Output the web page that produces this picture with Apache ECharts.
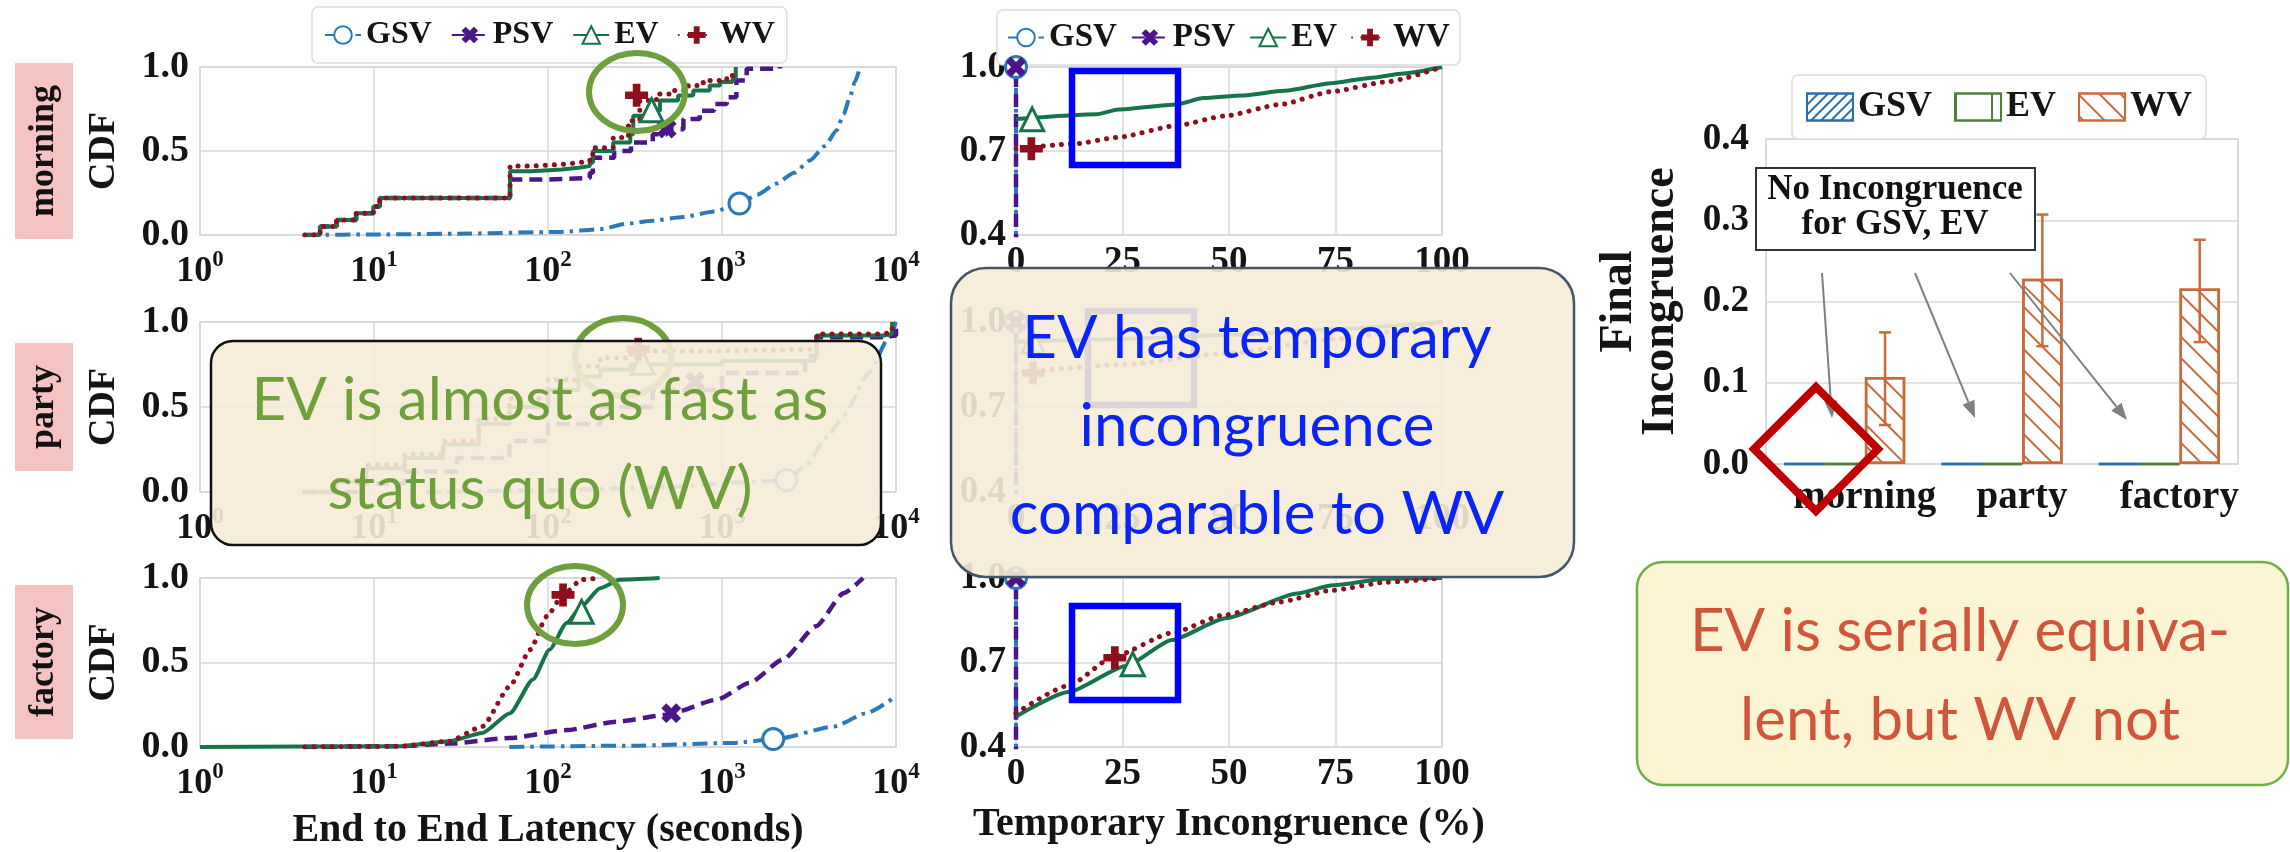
<!DOCTYPE html>
<html><head><meta charset="utf-8">
<script src="https://cdn.jsdelivr.net/npm/echarts@6/dist/echarts.min.js"></script>
<style>html,body{margin:0;padding:0;background:#fff}#c{width:2290px;height:852px}</style>
</head><body><div id="c"></div>
<script>
// ================= DATA =================
const scenarios = ['morning', 'party', 'factory'];
const methods = ['GSV', 'PSV', 'EV', 'WV'];
const barMethods = ['GSV', 'EV', 'WV'];

// End-to-end latency CDFs ([seconds, CDF])
const latMorningGSV = [[4,0],[10,0.003],[30,0.008],[117,0.018],[200,0.035],[284,0.067],[400,0.085],[597,0.107],[900,0.14],[1260,0.187],[1600,0.24],[2050,0.306],[2600,0.37],[3200,0.444],[3900,0.53],[4560,0.623],[5000,0.72],[5440,0.821],[5800,0.91],[6210,1.0]];
const latMorningPSV = [[4,0],[4.9,0.05],[6.1,0.09],[7.9,0.13],[9.9,0.17],[10.8,0.22],[60.5,0.33],[100,0.34],[174,0.37],[181,0.46],[240,0.5],[300,0.55],[400,0.6],[481,0.63],[600,0.69],[745,0.74],[900,0.78],[1065,0.82],[1210,0.92],[1386,0.99],[2150,1.0]];
const latMorningEV  = [[4,0],[4.9,0.05],[6.1,0.09],[7.9,0.13],[9.9,0.17],[10.8,0.22],[60.5,0.38],[80,0.39],[120,0.4],[150,0.41],[174,0.43],[181,0.5],[237,0.55],[297,0.6],[309,0.71],[369,0.74],[440,0.8],[560,0.83],[684,0.86],[850,0.89],[975,0.91],[1150,0.93],[1200,1.0]];
const latMorningWV  = [[4,0],[4.9,0.05],[6.1,0.09],[7.9,0.13],[9.9,0.17],[10.8,0.22],[60.5,0.41],[80,0.42],[120,0.43],[150,0.44],[174,0.46],[181,0.52],[237,0.58],[290,0.68],[337,0.8],[420,0.84],[503,0.86],[640,0.89],[780,0.92],[1065,0.95],[1150,1.0]];
const latMorningMarkers = [[1260,0.187],[481,0.633],[394,0.743],[323,0.832]];

const latPartyGSV = [[20,0],[100,0.01],[500,0.03],[1500,0.06],[2340,0.07],[3000,0.15],[4000,0.32],[5000,0.45],[7000,0.7],[9000,0.9],[10000,1.0]];
const latPartyPSV = [[4,0],[8,0.05],[15,0.12],[30,0.2],[60,0.3],[100,0.4],[200,0.5],[400,0.6],[1000,0.7],[3000,0.8],[3500,0.91],[8000,0.92],[10000,1.0]];
const latPartyEV  = [[4,0],[6,0.06],[9,0.14],[15,0.2],[25,0.28],[40,0.4],[60,0.5],[100,0.6],[150,0.68],[200,0.72],[300,0.75],[1000,0.77],[3400,0.79],[3500,0.92],[8500,0.93],[9500,1.0]];
const latPartyWV  = [[4,0],[6,0.07],[9,0.16],[15,0.22],[25,0.3],[40,0.43],[60,0.55],[100,0.66],[150,0.74],[200,0.79],[300,0.83],[1000,0.84],[3400,0.85],[3500,0.93],[8500,0.94],[9500,1.0]];
const latPartyMarkers = [[2340,0.07],[700,0.65],[350,0.76],[330,0.84]];

const latFactoryGSV = [[60,0],[300,0.008],[1150,0.024],[2050,0.047],[4370,0.12],[6770,0.2],[10000,0.3]];
const latFactoryPSV = [[4,0],[14,0.005],[27,0.02],[60,0.053],[128,0.1],[247,0.15],[480,0.19],[934,0.28],[1445,0.38],[2240,0.517],[3470,0.714],[5000,0.91],[6470,1.0]];
const latFactoryEV  = [[1,0],[14,0.004],[27,0.034],[42,0.083],[60.5,0.2],[82,0.4],[102,0.576],[128,0.734],[155,0.83],[199,0.94],[259,0.99],[438,1.0]];
const latFactoryWV  = [[4,0],[14,0.004],[27,0.034],[42,0.122],[60.5,0.36],[79,0.576],[98.5,0.773],[122,0.9],[156,0.99],[199,1.0]];
const latFactoryMarkers = [[1970,0.047],[511,0.2],[156,0.8],[122,0.9]];

// Temporary incongruence CDFs ([%, CDF])
const incZeroLine = [[0,0],[0,1.0]];      // GSV and PSV never incongruent
const incMorningEV = [[0,0.814],[19,0.831],[24,0.848],[37.5,0.866],[44,0.889],[53,0.898],[63,0.915],[74,0.942],[83,0.961],[91,0.977],[100,1.0]];
const incMorningWV = [[0,0.708],[14,0.726],[24,0.749],[37.5,0.79],[49,0.825],[62,0.866],[74,0.912],[87,0.947],[100,1.0]];
const incMorningMarkers = [[0,1.0],[0,1.0],[3.8,0.813],[3.6,0.708]];
const incPartyEV = [[0,0.93],[25,0.94],[50,0.955],[75,0.975],[100,1.0]];
const incPartyWV = [[0,0.82],[25,0.85],[50,0.89],[75,0.94],[100,1.0]];
const incPartyMarkers = [[0,1.0],[0,1.0],[4,0.93],[4,0.82]];
const incFactoryEV = [[0,0.508],[12.3,0.595],[25.8,0.688],[36.6,0.78],[49.2,0.857],[66,0.945],[74.4,0.974],[87,0.997],[100,1.0]];
const incFactoryWV = [[0,0.52],[12.3,0.618],[23.2,0.723],[36.6,0.805],[49,0.869],[62,0.915],[74,0.956],[87,0.985],[100,1.0]];
const incFactoryMarkers = [[0,1.0],[0,1.0],[27.4,0.694],[23.2,0.717]];

// Final incongruence (bar chart)
const finalGSV = [0, 0, 0];
const finalEV = [0, 0, 0];
const finalWV = [0.107, 0.228, 0.216];
const finalWVLow = [0.048, 0.145, 0.150];
const finalWVHigh = [0.162, 0.307, 0.276];

// ================= STYLE =================
const FONT = '"Liberation Serif","Times New Roman",serif';
const COLORS = {GSV:'#2b79b7', PSV:'#4a168a', EV:'#16744a', WV:'#8e0f1e'};
const PLUS = 'path://M3,0H6V3H9V6H6V9H3V6H0V3H3Z';
const STYLE = {
  GSV:{type:[15,6,3.5,6], width:4, symbol:'emptyCircle', mp:'circle', size:21, rot:0, hollow:true},
  PSV:{type:[13,7], width:4.5, symbol:PLUS, mp:PLUS, size:21, rot:45},
  EV:{type:'solid', width:4, symbol:'emptyTriangle', mp:'triangle', size:23, rot:0, hollow:true},
  WV:{type:[0.1,9], width:5, cap:'round', symbol:PLUS, mp:PLUS, size:23, rot:0}
};
const BAR = {GSV:'#2a6fae', EV:'#4f7f3c', WV:'#c96a3c'};
const tickFont = (s) => ({fontFamily:FONT, fontWeight:'bold', fontSize:s, color:'#141414'});

function lineSeries(m, idx, data, mark, step) {
  const s = STYLE[m];
  return {
    type:'line', name:m, xAxisIndex:idx, yAxisIndex:idx, data,
    step: step ? 'end' : false, smooth: step ? false : 0.2, smoothMonotone:'x',
    showSymbol:false, symbol:s.symbol, symbolSize:s.size, symbolRotate:s.rot,
    lineStyle:{color:COLORS[m], width:s.width, type:s.type, cap:s.cap || 'butt'},
    itemStyle:{color:COLORS[m]}, emphasis:{disabled:true}, animation:false, z:3,
    markPoint:{symbol:s.mp, symbolSize:s.size, symbolRotate:s.rot, silent:true, animation:false,
      label:{show:false},
      itemStyle: s.hollow ? {color:'#fff', borderColor:COLORS[m], borderWidth:3} : {color:COLORS[m]},
      data:[{coord:mark}]}
  };
}

// ================= LAYOUT =================
const rows = [{top:67, height:168}, {top:322, height:170}, {top:578, height:169}];
const grids = [];
rows.forEach(r => grids.push({left:200, width:696, top:r.top, height:r.height, show:true, borderColor:'#cfcfcf', borderWidth:1.5}));
rows.forEach(r => grids.push({left:1016, width:426, top:r.top, height:r.height, show:true, borderColor:'#cfcfcf', borderWidth:1.5}));
grids.push({left:1766, width:472, top:139, height:325, show:true, borderColor:'#cfcfcf', borderWidth:1.5});

const split = {show:true, lineStyle:{color:'#d9d9d9', width:1.5}};
const xAxis = [], yAxis = [];
rows.forEach((r, i) => {
  xAxis.push({type:'log', logBase:10, min:1, max:10000, gridIndex:i,
    axisLine:{show:false}, axisTick:{show:false}, splitLine:split,
    axisLabel:{margin:14, formatter: v => '{b|10}{s|' + Math.round(Math.log10(v)) + '}',
      rich:{b:Object.assign(tickFont(36), {verticalAlign:'bottom'}),
            s:Object.assign(tickFont(23), {verticalAlign:'bottom', padding:[0,0,18,0]})}},
    name: i === 2 ? 'End to End Latency (seconds)' : '', nameLocation:'middle', nameGap:64,
    nameTextStyle:tickFont(40)});
  yAxis.push({type:'value', min:0, max:1, interval:0.5, gridIndex:i,
    axisLine:{show:false}, axisTick:{show:false}, splitLine:split,
    axisLabel:Object.assign({margin:11, formatter: v => v.toFixed(1)}, tickFont(38)),
    name:'CDF', nameLocation:'middle', nameRotate:90, nameGap:77, nameTextStyle:tickFont(38)});
});
rows.forEach((r, i) => {
  xAxis.push({type:'value', min:0, max:100, interval:25, gridIndex:3 + i,
    axisLine:{show:false}, axisTick:{show:false}, splitLine:split,
    axisLabel:Object.assign({margin:9}, tickFont(37)),
    name: i === 2 ? 'Temporary Incongruence (%)' : '', nameLocation:'middle', nameGap:58,
    nameTextStyle:tickFont(40)});
  yAxis.push({type:'value', min:0.4, max:1.0, interval:0.3, gridIndex:3 + i,
    axisLine:{show:false}, axisTick:{show:false}, splitLine:split,
    axisLabel:Object.assign({margin:10, formatter: v => v.toFixed(1)}, tickFont(37))});
});
xAxis.push({type:'category', data:scenarios, gridIndex:6, axisLine:{show:false}, axisTick:{show:false},
  axisLabel:Object.assign({margin:14, padding:[0,0,0,40], interval:0, hideOverlap:false}, tickFont(39))});
yAxis.push({type:'value', min:0, max:0.4, interval:0.1, gridIndex:6, axisLine:{show:false}, axisTick:{show:false},
  splitLine:split, axisLabel:Object.assign({margin:17, formatter: v => v.toFixed(1)}, tickFont(37)),
  name:'Final\nIncongruence', nameLocation:'middle', nameRotate:90, nameGap:84,
  nameTextStyle:Object.assign(tickFont(46), {lineHeight:42})});

// ================= SERIES =================
const series = [];
const latSets = [
  {d:[latMorningGSV, latMorningPSV, latMorningEV, latMorningWV], mk:latMorningMarkers, step:true},
  {d:[latPartyGSV, latPartyPSV, latPartyEV, latPartyWV], mk:latPartyMarkers, step:true},
  {d:[latFactoryGSV, latFactoryPSV, latFactoryEV, latFactoryWV], mk:latFactoryMarkers, step:false}
];
latSets.forEach((set, r) => methods.forEach((m, k) =>
  series.push(lineSeries(m, r, set.d[k], set.mk[k], set.step && m !== 'GSV'))));
const incSets = [
  {d:[incZeroLine, incZeroLine, incMorningEV, incMorningWV], mk:incMorningMarkers},
  {d:[incZeroLine, incZeroLine, incPartyEV, incPartyWV], mk:incPartyMarkers},
  {d:[incZeroLine, incZeroLine, incFactoryEV, incFactoryWV], mk:incFactoryMarkers}
];
incSets.forEach((set, r) => methods.forEach((m, k) =>
  series.push(lineSeries(m, 3 + r, set.d[k], set.mk[k], false))));

const decals = {
  GSV:{symbol:'rect', symbolSize:1, color:BAR.GSV, dashArrayX:[1,0], dashArrayY:[2,5], rotation:-Math.PI/4},
  EV:{symbol:'rect', symbolSize:1, color:BAR.EV, dashArrayX:[2,34], dashArrayY:[1,0], rotation:0},
  WV:{symbol:'rect', symbolSize:1, color:BAR.WV, dashArrayX:[1,0], dashArrayY:[2,13], rotation:Math.PI/4}
};
const barData = {GSV:finalGSV, EV:finalEV, WV:finalWV};
const BAR_GAP = 0.23;
barMethods.forEach(m => series.push({
  type:'bar', name:m + ' ', xAxisIndex:6, yAxisIndex:6, data:barData[m],
  barGap:'0%', barCategoryGap:(BAR_GAP * 100) + '%', animation:false,
  itemStyle:{color:'#fff', borderColor:BAR[m], borderWidth:2.5, decal:decals[m]},
  emphasis:{disabled:true}
}));
series.push({
  type:'custom', xAxisIndex:6, yAxisIndex:6, animation:false, z:10,
  data: scenarios.map((c, i) => [i, finalWVLow[i], finalWVHigh[i]]),
  encode:{x:0, y:[1,2]},
  renderItem(params, api) {
    const band = api.size([1, 0])[0];
    const bw = band * (1 - BAR_GAP) / 3;
    const cx = api.coord([api.value(0), 0])[0] + bw;
    const lo = api.coord([api.value(0), api.value(1)])[1];
    const hi = api.coord([api.value(0), api.value(2)])[1];
    const st = {stroke:BAR.WV, lineWidth:2.5};
    return {type:'group', children:[
      {type:'line', shape:{x1:cx, y1:lo, x2:cx, y2:hi}, style:st},
      {type:'line', shape:{x1:cx - 6, y1:hi, x2:cx + 6, y2:hi}, style:st},
      {type:'line', shape:{x1:cx - 6, y1:lo, x2:cx + 6, y2:lo}, style:st}
    ]};
  }
});

// ================= LEGENDS =================
const legendBase = {orient:'horizontal', backgroundColor:'#fff', borderColor:'#dcdcdc', borderWidth:1.5,
  borderRadius:6, selectedMode:false};
const legends = [
  Object.assign({}, legendBase, {data:methods, left:312, top:7, padding:[12,12], itemGap:19,
    itemWidth:36, itemHeight:22, textStyle:tickFont(32)}),
  Object.assign({}, legendBase, {data:methods, left:997, top:10, padding:[11,10], itemGap:14,
    itemWidth:36, itemHeight:22, textStyle:tickFont(33)}),
  Object.assign({}, legendBase, {data:barMethods.map(m => m + ' '), formatter: n => n.trim(),
    icon:'rect', left:1792, top:75, padding:[14,14], itemGap:22, itemWidth:46, itemHeight:27,
    textStyle:tickFont(36)})
];

// ================= ANNOTATIONS =================
const calloutFont = '60px Lato, "Open Sans", sans-serif';
function arrow(x1, y1, x2, y2) {
  const a = Math.atan2(y2 - y1, x2 - x1), L = 17, W = 6.5;
  const bx = x2 - L * Math.cos(a), by = y2 - L * Math.sin(a);
  return [
    {type:'line', z:105, shape:{x1, y1, x2:bx, y2:by}, style:{stroke:'#7f7f7f', lineWidth:2}},
    {type:'polygon', z:105, shape:{points:[[x2, y2], [bx + W * Math.sin(a), by - W * Math.cos(a)], [bx - W * Math.sin(a), by + W * Math.cos(a)]]}, style:{fill:'#7f7f7f'}}
  ];
}
const rowCenters = [151, 407, 662];
const graphic = [];
scenarios.forEach((s, i) => graphic.push({type:'text', x:44, y:rowCenters[i], rotation:Math.PI / 2, z:50,
  style:{text:s, font:'bold 36px "Liberation Serif"', fill:'#111', align:'center', verticalAlign:'middle',
    backgroundColor:'#f6c3c3', padding:[11, 22, 11, 22]}}));
// green ellipses
[[637, 92], [623, 357], [575, 605]].forEach(c => graphic.push({type:'ellipse', z:60,
  shape:{cx:c[0], cy:c[1], rx:48, ry:39}, style:{fill:'none', stroke:'#6e9e3d', lineWidth:6}}));
// blue rectangles
[[1072, 71], [1088, 311], [1072, 606]].forEach(p => graphic.push({type:'rect', z:60,
  shape:{x:p[0], y:p[1], width:106, height:94}, style:{fill:'none', stroke:'#0000ff', lineWidth:6.5}}));
// left callout
graphic.push({type:'rect', z:100, shape:{x:211, y:341, width:670, height:204, r:22},
  style:{fill:'rgba(245,235,215,0.9)', stroke:'#111', lineWidth:2.5}});
graphic.push({type:'text', z:101, x:540, y:401, style:{text:'EV is almost as fast as', font:calloutFont, fill:'#6fa03c', align:'center', verticalAlign:'middle'}});
graphic.push({type:'text', z:101, x:540, y:490, style:{text:'status quo (WV)', font:calloutFont, fill:'#6fa03c', align:'center', verticalAlign:'middle'}});
// middle callout
graphic.push({type:'rect', z:100, shape:{x:951, y:268, width:623, height:309, r:35},
  style:{fill:'rgba(245,235,215,0.9)', stroke:'#44546a', lineWidth:2.5}});
[['EV has temporary', 339], ['incongruence', 427], ['comparable to WV', 515]].forEach(t =>
  graphic.push({type:'text', z:101, x:1257, y:t[1], style:{text:t[0], font:calloutFont, fill:'#0a24f5', align:'center', verticalAlign:'middle'}}));
// right callout
graphic.push({type:'rect', z:100, shape:{x:1637, y:562, width:651, height:223, r:26},
  style:{fill:'#fcf5d4', stroke:'#70ad47', lineWidth:2.5}});
[['EV is serially equiva-', 632], ['lent, but WV not', 721]].forEach(t =>
  graphic.push({type:'text', z:101, x:1960, y:t[1], style:{text:t[0], font:calloutFont, fill:'#d1553a', align:'center', verticalAlign:'middle'}}));
// bar chart annotation
graphic.push({type:'rect', z:104, shape:{x:1756, y:168, width:279, height:82}, style:{fill:'#fff', stroke:'#333', lineWidth:2}});
graphic.push({type:'text', z:105, x:1895, y:190, style:{text:'No Incongruence', font:'bold 35px "Liberation Serif"', fill:'#111', align:'center', verticalAlign:'middle'}});
graphic.push({type:'text', z:105, x:1895, y:225, style:{text:'for GSV, EV', font:'bold 35px "Liberation Serif"', fill:'#111', align:'center', verticalAlign:'middle'}});
graphic.push(...arrow(1822, 273, 1832, 418), ...arrow(1915, 273, 1975, 418), ...arrow(2010, 273, 2127, 420));
// red diamond
graphic.push({type:'polygon', z:120, shape:{points:[[1816, 387], [1878, 449], [1816, 511], [1754, 449]]},
  style:{fill:'none', stroke:'#c00000', lineWidth:8}});

const chart = echarts.init(document.getElementById('c'), null, {renderer:'canvas'});
chart.setOption({animation:false, backgroundColor:'#fff', grid:grids, xAxis, yAxis, series, legend:legends, graphic});
</script></body></html>
